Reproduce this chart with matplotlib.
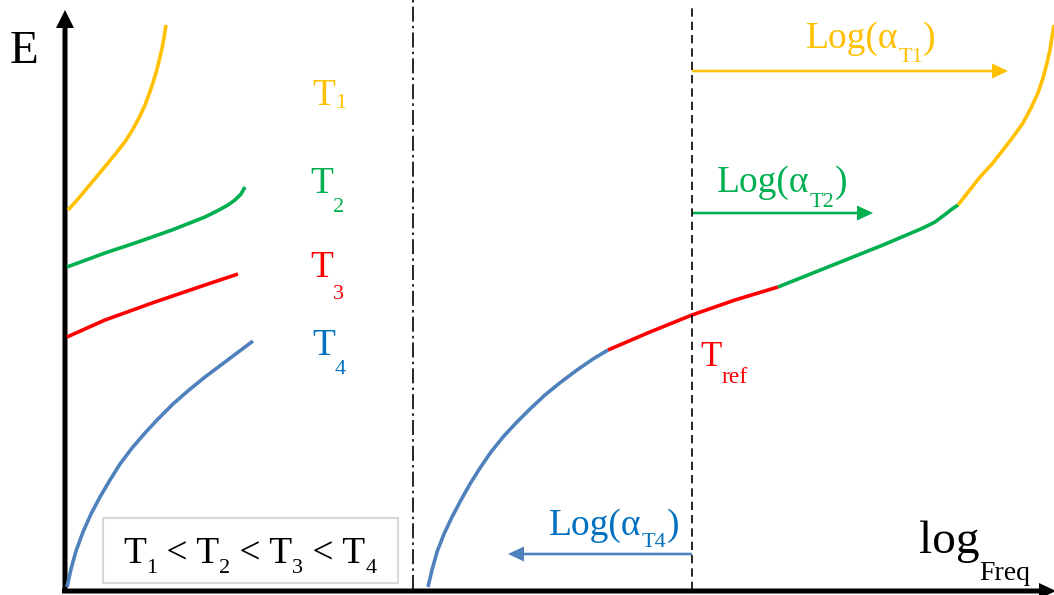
import matplotlib
matplotlib.use("Agg")
import matplotlib.pyplot as plt
from matplotlib.patches import Rectangle
from matplotlib.transforms import Bbox, TransformedBbox

plt.rcParams['font.family'] = ['Liberation Serif', 'DejaVu Serif']

# isotherms (x = log freq, E = modulus, arbitrary units)
t1_x = [68, 78, 88, 98, 108, 117, 125.5, 133, 139.5, 145, 149.5, 153.5, 156.8, 159.8, 162.3, 164.3, 166]
t1_e = [385, 396, 408, 420, 432, 443, 454, 466, 478, 490, 502, 514, 525, 537, 548, 559, 570]
t2_x = [67, 105, 138, 172, 205, 217, 228, 235, 241, 245]
t2_e = [328, 342, 353, 365, 378, 384, 390, 395, 401, 408]
t3_x = [67, 105, 155, 205, 238]
t3_e = [258, 275, 293, 310, 321]
t4_x = [67, 71, 76, 83, 91, 100, 110, 120, 132, 145, 158, 173, 189, 205, 221, 237, 253]
t4_e = [8, 26, 44, 63, 81, 98, 115, 131, 147, 162, 176, 191, 205, 218, 230, 242, 254]

# master curve pieces after shifting
m4_x = [428, 432, 437, 444, 452, 461, 470, 480, 491, 503, 516, 530, 545, 561, 577, 593, 608]
m4_e = [8, 25, 43, 61, 78, 95, 111, 127, 143, 158, 172, 186, 200, 213, 225, 236, 245]
m3_x = [608, 650, 692, 735, 778]
m3_e = [245, 263, 280, 295, 308]
m2_x = [778, 833, 883, 923, 935, 947, 952, 958]
m2_e = [308, 330, 350, 367, 373, 382, 386, 390]
m1_x = [958, 969, 980, 992, 1003, 1013, 1023, 1031, 1038, 1043, 1047, 1050, 1052, 1054]
m1_e = [390, 404, 418, 431, 445, 458, 472, 487, 502, 517, 532, 545, 558, 570]

# shift factors: start, end, level
x_ref = 692
shift_t1 = [692, 1008, 524]
shift_t2 = [692, 873, 382]
shift_t4 = [692, 508, 41]

YELLOW = '#FFC000'
GREEN = '#00B050'
RED = '#FF0000'
BLUE = '#4F81BD'
BLUE_TXT = '#0070C0'

fig = plt.figure(figsize=(10.54, 5.95), dpi=100)
ax = fig.add_axes([0, 0, 1, 1])
ax.set_xlim(0, 1054)
ax.set_ylim(0, 595)
ax.axis('off')

curves = [(t1_x, t1_e, YELLOW), (t2_x, t2_e, GREEN), (t3_x, t3_e, RED), (t4_x, t4_e, BLUE),
          (m4_x, m4_e, BLUE), (m3_x, m3_e, RED), (m2_x, m2_e, GREEN), (m1_x, m1_e, YELLOW)]
for xs, es, c in curves:
    ax.plot(xs, es, color=c, lw=2.6, solid_capstyle='butt', solid_joinstyle='round')

# vertical guides
ax.plot([413, 413], [5, 595], color='black', lw=1.2, linestyle=(0, (9, 2.5, 1.5, 2.5)))
ax.plot([x_ref, x_ref], [5, 590], color='black', lw=1.2, linestyle=(0, (5, 3)))

# axes arrows
ax.arrow(65, 2, 0, 583, width=5, head_width=18, head_length=18,
         length_includes_head=True, color='black', lw=0)
ax.arrow(62, 4, 994, 0, width=5, head_width=16, head_length=17,
         length_includes_head=True, color='black', lw=0)

# shift arrows
for (x0, x1, e), c in [(shift_t1, YELLOW), (shift_t2, GREEN), (shift_t4, BLUE)]:
    ax.arrow(x0, e, x1 - x0, 0, width=2.6, head_width=15, head_length=16,
             length_includes_head=True, color=c, lw=0)

renderer = fig.canvas.get_renderer()
inv = ax.transData.inverted()


def pieces(x, y, parts, color, size, sub_size, drop):
    out = []
    for s, is_sub in parts:
        t = ax.text(x, y - drop if is_sub else y, s, color=color,
                    fontsize=sub_size if is_sub else size,
                    ha='left', va='baseline')
        bb = t.get_window_extent(renderer=renderer)
        x = inv.transform((bb.x1, bb.y0))[0]
        out.append(t)
    return out


ax.text(10, 532, 'E', fontsize=34, ha='left', va='baseline')

pieces(312, 490, [('T', False), ('1', True)], YELLOW, 27, 16, 3)
pieces(310, 402, [('T', False), ('2', True)], GREEN, 27, 16, 19)
t3 = pieces(310, 318, [('T', False), ('3', True)], RED, 27, 16, 22)
t3[1].set_clip_box(TransformedBbox(Bbox([[300, 299], [360, 330]]), ax.transData))
pieces(312, 240, [('T', False), ('4', True)], BLUE_TXT, 27, 16, 19)

pieces(806, 547, [('Log(α', False), ('T1', True), (')', False)], YELLOW, 27, 16, 14)
pieces(717, 403, [('Log(α', False), ('T2', True), (')', False)], GREEN, 27, 16, 15)
pieces(549, 60, [('Log(α', False), ('T4', True), (')', False)], BLUE_TXT, 27, 16, 12)

pieces(700, 229, [('T', False), ('ref', True)], RED, 25, 17, 17)
pieces(919, 42, [('log', False), ('Freq', True)], 'black', 34, 20, 27)

ax.add_patch(Rectangle((103, 12), 295, 65, fill=False, edgecolor='#d9d9d9', lw=1.5))
pieces(123, 32, [('T', False), ('1', True), (' < T', False), ('2', True),
                 (' < T', False), ('3', True), (' < T', False), ('4', True)],
       'black', 27, 16, 10)

fig.savefig('out.png', dpi=100)
